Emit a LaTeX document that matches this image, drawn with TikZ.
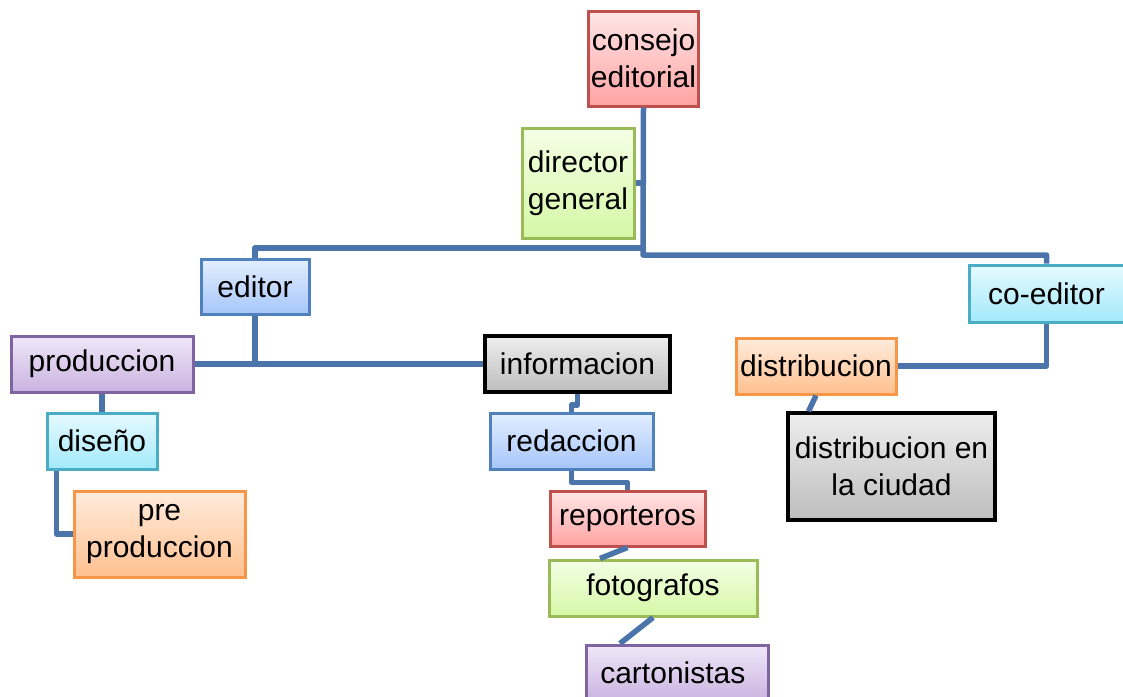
\documentclass[tikz,border=0pt]{standalone}
\usepackage{fontspec}
\setmainfont{Liberation Sans}
\definecolor{linkblue}{HTML}{4A74AA}
\begin{document}
\begin{tikzpicture}
		[
			x=1pt, y=-1pt,
			box/.style={rectangle, line width=3pt, inner sep=2pt, align=center,
				font=\fontsize{30}{37}\selectfont},
			red/.style={box, draw={rgb,255:red,192;green,80;blue,77}, top color={rgb,255:red,255;green,230;blue,230}, bottom color={rgb,255:red,255;green,163;blue,163}},
			green/.style={box, draw={rgb,255:red,155;green,187;blue,89}, top color={rgb,255:red,243;green,255;blue,230}, bottom color={rgb,255:red,214;green,247;blue,166}},
			blue/.style={box, draw={rgb,255:red,79;green,129;blue,189}, top color={rgb,255:red,227;green,238;blue,255}, bottom color={rgb,255:red,166;green,198;blue,250}},
			cyan/.style={box, draw={rgb,255:red,75;green,172;blue,198}, top color={rgb,255:red,230;green,250;blue,255}, bottom color={rgb,255:red,163;green,233;blue,250}},
			purple/.style={box, draw={rgb,255:red,128;green,100;blue,162}, top color={rgb,255:red,240;green,231;blue,248}, bottom color={rgb,255:red,201;green,179;blue,224}},
			orange/.style={box, draw={rgb,255:red,247;green,150;blue,70}, top color={rgb,255:red,255;green,236;blue,221}, bottom color={rgb,255:red,255;green,192;blue,143}},
			gray/.style={box, draw=black, line width=3.5pt, top color={rgb,255:red,238;green,238;blue,238}, bottom color={rgb,255:red,189;green,189;blue,189}},
			link/.style={draw=linkblue, line width=5.5pt, line join=round},
		]

		\useasboundingbox (0,0) rectangle (1123,696);

		% Nodes
		\foreach \style/\name/\x/\y/\w/\h/\text in
		{
			red/consejo/643.5/58.5/109/95/{consejo\\editorial},
			green/director/578/183/112/110/{director\\general},
			blue/editor/255/286.5/108/55/{editor},
			cyan/coeditor/1046.5/293.5/155/57/{co-editor},
			purple/produccion/102/364/182/56/{produccion},
			gray/informacion/577.5/364/185/56/{informacion},
			orange/distribucion/816/366/160/56/{distribucion},
			cyan/diseno/102/441/110/56/{diseño},
			blue/redaccion/571.5/441/163/56/{redaccion},
			gray/ciudad/891.5/466.5/207/107/{distribucion en\\la ciudad},
			orange/preprod/159.5/534/171/86/{pre\\produccion},
			red/reporteros/627.5/518.5/155/55/{reporteros},
			green/fotografos/653/588/208/56/{fotografos},
			purple/cartonistas/677/673/182/56/{cartonistas}
		}
			\node[\style, minimum width=\w pt, minimum height=\h pt] (\name) at (\x,\y) {\text};

		% Connections
		\coordinate (hub) at (643,255);
		\coordinate (split) at (643,248);
		\draw[link] (consejo.south) -- (hub) -| (coeditor.north);
		\draw[link] (split) -| (editor.north);
		\draw[link] (director.east) -- (director.east -| consejo.south);
		\draw[link] (editor.south) -- (editor.south |- informacion.west);
		\draw[link] (produccion.east) -- (informacion.west);
		\draw[link] (produccion.south) -- (diseno.north);
		\draw[link] ([xshift=11pt]diseno.south west) |- (preprod.west);
		\draw[link] (informacion.south) -- ++(0,11) -| (redaccion.north);
		\draw[link] (redaccion.south) -- ++(0,12) -| (reporteros.north);
		\draw[link] (reporteros.south) -- ([xshift=-53pt]fotografos.north);
		\draw[link] (fotografos.south) -- ([xshift=-57pt]cartonistas.north);
		\draw[link] (distribucion.east) -| (coeditor.south);
		\draw[link] (distribucion.south) -- ([xshift=-83pt]ciudad.north);

		\end{tikzpicture}
\end{document}
